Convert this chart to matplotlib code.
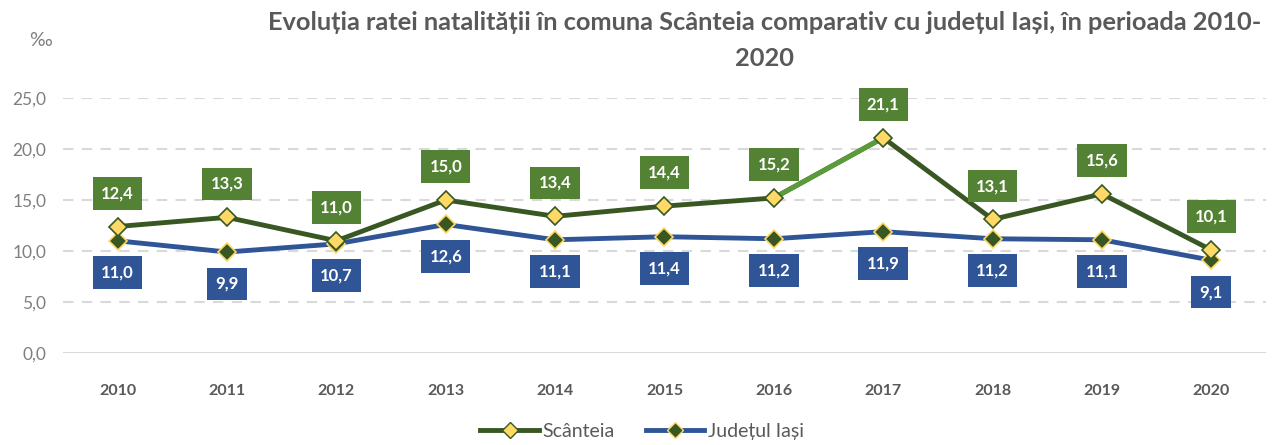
import matplotlib.pyplot as plt
from matplotlib.lines import Line2D

years = ['2010', '2011', '2012', '2013', '2014', '2015', '2016', '2017', '2018', '2019', '2020']
scanteia = [12.4, 13.3, 11.0, 15.0, 13.4, 14.4, 15.2, 21.1, 13.1, 15.6, 10.1]
iasi = [11.0, 9.9, 10.7, 12.6, 11.1, 11.4, 11.2, 11.9, 11.2, 11.1, 9.1]

plt.rcParams['font.family'] = ['Lato', 'DejaVu Sans']

dark_green = '#385723'
light_green = '#5B9B3A'
box_green = '#548235'
blue = '#2F5597'
yellow = '#FFD966'
grey = '#595959'

fig = plt.figure(figsize=(12.77, 4.45), dpi=100)
ax = fig.add_axes([0.0493, 0.2067, 0.9421, 0.5731])

x = list(range(len(years)))

# grid
for v in [5, 10, 15, 20, 25]:
    ax.axhline(v, color='#D9D9D9', lw=1.5, ls=(0, (5, 4)), zorder=0)
ax.axhline(0, color='#D9D9D9', lw=1.5, zorder=0)

# Iasi line
ax.plot(x, iasi, color=blue, lw=3.5, zorder=2, clip_on=False)
ax.plot(x, iasi, ls='none', marker='D', ms=9, mfc=dark_green, mec=yellow, mew=1.2, zorder=4, clip_on=False)

# Scanteia line, 2016-2017 segment lighter
ax.plot(x, scanteia, color=dark_green, lw=3.5, zorder=3, clip_on=False)
ax.plot(x[6:8], scanteia[6:8], color=light_green, lw=3.5, zorder=3, clip_on=False)
ax.plot(x, scanteia, ls='none', marker='D', ms=9, mfc=yellow, mec=dark_green, mew=1.2, zorder=5, clip_on=False)

def fmt(v):
    return f'{v:.1f}'.replace('.', ',')

for i in x:
    ax.annotate(fmt(scanteia[i]), (i, scanteia[i]), xytext=(0, 24), textcoords='offset points',
                ha='center', va='center', color='white', fontsize=12, fontweight='bold',
                bbox=dict(boxstyle='square,pad=0.5', fc=box_green, ec='none'), zorder=6,
                annotation_clip=False)
    ax.annotate(fmt(iasi[i]), (i, iasi[i]), xytext=(0, -23), textcoords='offset points',
                ha='center', va='center', color='white', fontsize=12, fontweight='bold',
                bbox=dict(boxstyle='square,pad=0.5', fc=blue, ec='none'), zorder=6,
                annotation_clip=False)

ax.set_xlim(-0.5, 10.5)
ax.set_ylim(0, 25)
ax.set_yticks([0, 5, 10, 15, 20, 25])
ax.set_yticklabels([fmt(v) for v in [0, 5, 10, 15, 20, 25]], color='#7F7F7F', fontsize=12.5)
ax.set_xticks(x)
ax.set_xticklabels(years, color=grey, fontsize=11.5, fontweight='bold')
ax.tick_params(length=0, axis='y', pad=12)
ax.tick_params(length=0, axis='x', pad=22)
for s in ax.spines.values():
    s.set_visible(False)

fig.text(0.023, 0.91, '‰', color='#7F7F7F', fontsize=14, ha='left', va='center')
fig.text(0.599, 0.95, 'Evoluția ratei natalității în comuna Scânteia comparativ cu județul Iași, în perioada 2010-',
         color=grey, fontsize=18.3, fontweight='bold', ha='center', va='center')
fig.text(0.599, 0.868, '2020', color=grey, fontsize=18.3, fontweight='bold', ha='center', va='center')

handles = [
    Line2D([], [], color=dark_green, lw=3.5, marker='D', ms=8, mfc=yellow, mec=dark_green),
    Line2D([], [], color=blue, lw=3.5, marker='D', ms=8, mfc=dark_green, mec=yellow),
]
fig.legend(handles, ['Scânteia', 'Județul Iași'], loc='center', bbox_to_anchor=(0.503, 0.03), ncol=2,
           frameon=False, fontsize=14, labelcolor=grey, handlelength=3.0, handletextpad=0.2,
           columnspacing=1.6)

fig.savefig('out.png', dpi=100)
